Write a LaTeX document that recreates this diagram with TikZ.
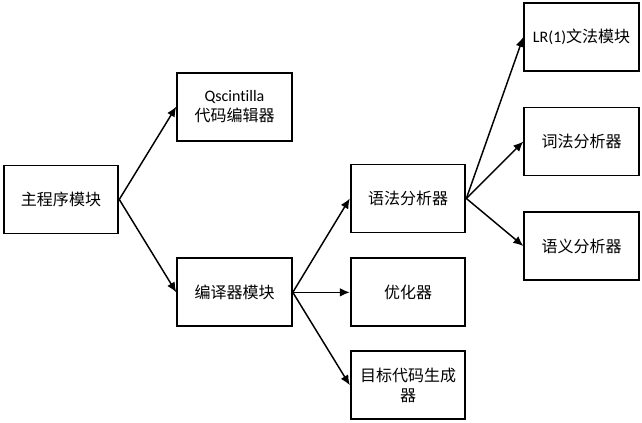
\documentclass[tikz,border=0pt]{standalone}
\usepackage{fontspec}
\setmainfont{Carlito}[Ligatures={NoCommon, NoRare, NoDiscretionary}]
\newfontfamily\cjk{Noto Sans CJK SC}
\usetikzlibrary{arrows.meta, positioning}
\tikzstyle{block} = [draw, rectangle, line width=1.4pt, minimum width=86pt, minimum height=51pt, align=center, inner sep=2pt, font=\fontsize{12}{15}\selectfont\cjk]
\tikzstyle{path} = [-{Latex[length=7.5pt, width=6.5pt]}, line width=1.1pt]

\begin{document}
\begin{tikzpicture}[node distance=42.75pt]
    \useasboundingbox (0,0) rectangle (481.5pt,-316.5pt);
    \node (main) [block] at (45.75pt,-149.6pt) {主程序模块};
    \node (editor) [block, above right=17.25pt and 42.75pt of main] {{\rmfamily Qscintilla}\\代码编辑器};
    \node (compiler) [block, below right=17.25pt and 42.75pt of main] {编译器模块};
    \node (parser) [block, above right=18pt and 42.75pt of compiler] {语法分析器};
    \node (optimizer) [block, right=of compiler] {优化器};
    \node (codegen) [block, below right=17.25pt and 42.75pt of compiler] {目标代码生成\\器};
    \node (lexer) [block, right=of parser, yshift=42.75pt] {词法分析器};
    \node (grammar) [block, above=26pt of lexer] {{\rmfamily LR(1)}文法模块};
    \node (semantic) [block, below=26pt of lexer] {语义分析器};

    % Arrows.
    \draw [path] (main.east) -- (editor.west);
    \draw [path] (main.east) -- (compiler.west);
    \draw [path] (compiler.east) -- (parser.west);
    \draw [path] (compiler.east) -- (optimizer.west);
    \draw [path] (compiler.east) -- (codegen.west);
    \draw [path] (parser.east) -- (grammar.west);
    \draw [path] (parser.east) -- (lexer.west);
    \draw [path] (parser.east) -- (semantic.west);
\end{tikzpicture}
\end{document}
